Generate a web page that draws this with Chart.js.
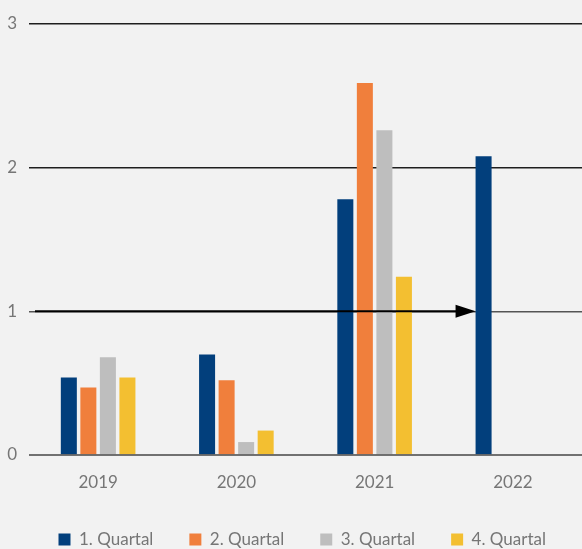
<!DOCTYPE html>
<html>
<head>
<meta charset="utf-8">
<script src="https://cdn.jsdelivr.net/npm/chart.js@4/dist/chart.umd.min.js"></script>
<style>
  html, body { margin: 0; padding: 0; background: #f2f2f2; }
  #wrap { width: 582px; height: 549px; }
</style>
</head>
<body>
<div id="wrap"><canvas id="chart"></canvas></div>
<script>
const jahre = ["2019", "2020", "2021", "2022"];
const quartal1 = [0.54, 0.70, 1.78, 2.08];
const quartal2 = [0.47, 0.52, 2.59, null];
const quartal3 = [0.68, 0.09, 2.26, null];
const quartal4 = [0.54, 0.17, 1.24, null];
const yTicks = [0, 1, 2, 3];
const pfeilWert = 1;

const farben = ["#023f7c", "#f07f3c", "#bebebe", "#f3bf31"];
const textFarbe = "#767676";

/* Nulllinie über den Balken + Pfeil bei 1 */
const overlay = {
  id: "overlay",
  afterDatasetsDraw(chart) {
    const { ctx, chartArea, scales } = chart;
    const y0 = scales.y.getPixelForValue(0);
    ctx.save();
    ctx.strokeStyle = "rgba(70,70,70,0.75)";
    ctx.lineWidth = 2;
    ctx.beginPath();
    ctx.moveTo(chartArea.left, y0);
    ctx.lineTo(chartArea.right, y0);
    ctx.stroke();

    // Pfeil bis zum 2022er Balken
    const bar = chart.getDatasetMeta(0).data[3];
    const yp = scales.y.getPixelForValue(pfeilWert);
    const tip = bar.x - bar.width / 2;
    ctx.strokeStyle = "#000";
    ctx.fillStyle = "#000";
    ctx.lineWidth = 2;
    ctx.beginPath();
    ctx.moveTo(chartArea.left + 6, yp);
    ctx.lineTo(tip - 18, yp);
    ctx.stroke();
    ctx.beginPath();
    ctx.moveTo(tip, yp);
    ctx.lineTo(tip - 20, yp - 6.5);
    ctx.lineTo(tip - 20, yp + 6.5);
    ctx.closePath();
    ctx.fill();
    ctx.restore();
  }
};

new Chart(document.getElementById("chart"), {
  type: "bar",
  data: {
    labels: jahre,
    datasets: [
      { label: "1. Quartal", data: quartal1, backgroundColor: farben[0] },
      { label: "2. Quartal", data: quartal2, backgroundColor: farben[1] },
      { label: "3. Quartal", data: quartal3, backgroundColor: farben[2] },
      { label: "4. Quartal", data: quartal4, backgroundColor: farben[3] }
    ]
  },
  options: {
    responsive: true,
    maintainAspectRatio: false,
    animation: false,
    layout: { padding: { top: 24, left: 0, right: 0, bottom: 0 } },
    datasets: {
      bar: { categoryPercentage: 0.565, barPercentage: 0.82 }
    },
    scales: {
      x: {
        grid: { display: false, drawTicks: false },
        border: { display: false },
        ticks: { color: textFarbe, font: { family: "Lato", size: 17 }, padding: 17 },
        afterFit(scale) { scale.height = 40; }
      },
      y: {
        min: 0,
        max: 3,
        afterBuildTicks(scale) { scale.ticks = yTicks.map(v => ({ value: v })); },
        grid: {
          drawTicks: false,
          lineWidth: 1.5,
          color: ctx => ctx.tick.value === 0 ? "rgba(0,0,0,0)" : (ctx.tick.value === 1 ? "#555" : "#1e1e1e")
        },
        border: { display: false },
        ticks: { color: textFarbe, font: { family: "Lato", size: 17 }, padding: 12 },
        afterFit(scale) { scale.width = 29; }
      }
    },
    plugins: {
      legend: {
        position: "bottom",
        align: "end",
        maxHeight: 54,
        labels: {
          boxWidth: 12,
          boxHeight: 12,
          padding: 36,
          color: textFarbe,
          font: { family: "Lato", size: 17 }
        }
      },
      tooltip: { enabled: false }
    }
  },
  plugins: [overlay]
});
</script>
</body>
</html>
